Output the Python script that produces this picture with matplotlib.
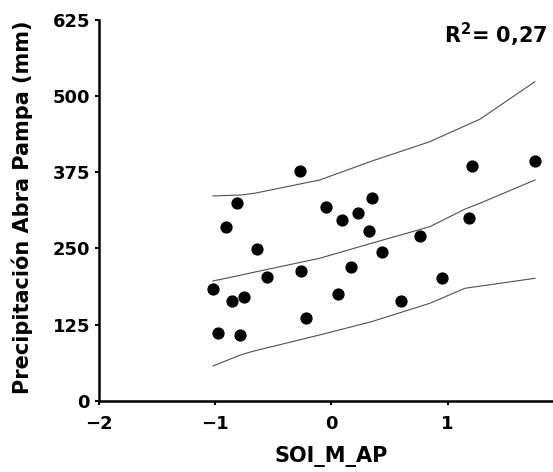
import numpy as np
import matplotlib.pyplot as plt

# SOI index vs. rainfall at Abra Pampa
soi = [-1.020, -0.979, -0.910, -0.856, -0.813, -0.790, -0.755, -0.637, -0.557,
       -0.273, -0.258, -0.217, -0.043, 0.057, 0.091, 0.164, 0.229, 0.324,
       0.345, 0.439, 0.596, 0.761, 0.953, 1.185, 1.206, 1.751]
precip = [182.9, 110.6, 285.6, 163.7, 324.1, 107.9, 170.7, 248.5, 203.6,
          377.6, 213.4, 135.3, 318.5, 174.7, 296.7, 220.0, 307.6, 279.1,
          332.3, 243.6, 163.8, 270.4, 200.9, 299.4, 385.3, 394.0]

# fitted curve and prediction bands
band_x = [-1.02, -0.775, -0.661, -0.101, 0.345, 0.847, 1.148, 1.277, 1.751]
fit_mid = [196.5, 206.2, 211.1, 233.8, 258.4, 285.7, 314.4, 324.1, 362.3]
fit_upper = [336.1, 337.7, 340.5, 362.3, 393.2, 425.2, 451.1, 462.0, 523.7]
fit_lower = [57.0, 75.5, 81.8, 107.9, 129.7, 159.9, 184.5, 188.0, 200.9]

x_ticks = [-2, -1, 0, 1]
y_ticks = [0, 125, 250, 375, 500, 625]
r2_label = 'R$^2$= 0,27'

plt.rcParams['mathtext.default'] = 'bf'

fig = plt.figure(figsize=(5.53, 4.72), dpi=100)
ax = fig.add_axes([0.179, 0.1511, 0.8407, 0.8066])

for curve in (fit_upper, fit_mid, fit_lower):
    ax.plot(band_x, curve, color='#505050', lw=0.8)

ax.plot(soi, precip, 'o', color='black', ms=7.8, clip_on=False)

ax.set_xlim(-2, 2)
ax.set_ylim(0, 625)
ax.set_xticks(x_ticks)
ax.set_yticks(y_ticks)

for side in ('top', 'right'):
    ax.spines[side].set_visible(False)
for side in ('left', 'bottom'):
    ax.spines[side].set_linewidth(1.8)

ax.tick_params(axis='both', direction='out', length=3, width=1.5,
               labelsize=13)
ax.tick_params(axis='x', pad=7.5)
ax.tick_params(axis='y', pad=3.5)
for lab in ax.get_xticklabels() + ax.get_yticklabels():
    lab.set_fontweight('bold')

ax.set_xlabel('SOI_M_AP', fontsize=15, fontweight='bold', labelpad=9)
ax.set_ylabel('Precipitación Abra Pampa (mm)', fontsize=15,
              fontweight='bold')
ax.yaxis.set_label_coords(-0.142, 0.509)

ax.text(1.863, 586.7, r2_label, fontsize=15, fontweight='bold',
        ha='right', va='baseline')

fig.savefig('out.png', dpi=100, facecolor='white')
